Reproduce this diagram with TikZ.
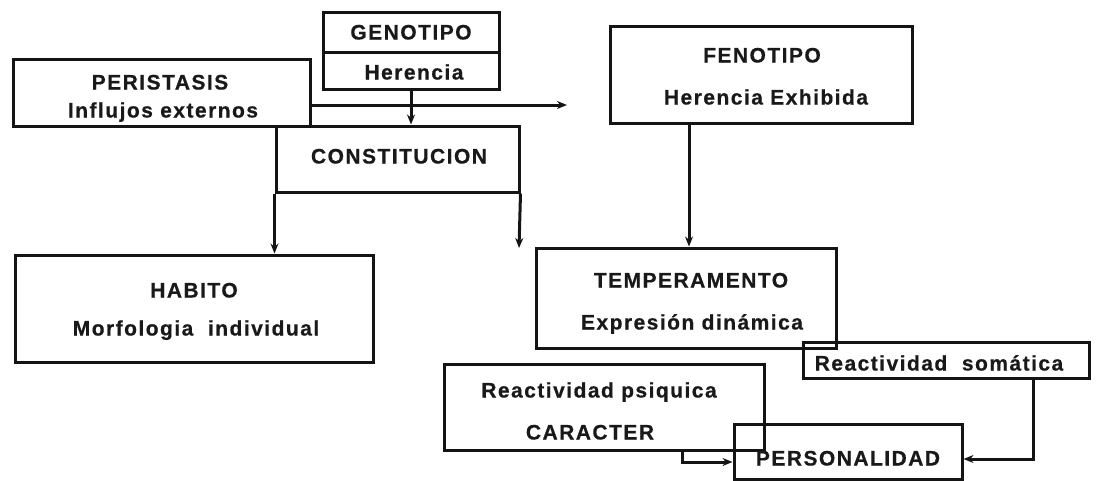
\documentclass[tikz,border=0pt]{standalone}
\usepackage{fontspec}
\setmainfont{Liberation Sans}[LetterSpace=7,BoldFeatures={FakeBold=0.6}]
\usetikzlibrary{arrows.meta,calc}
\begin{document}
\begin{tikzpicture}[x=1pt,y=-1pt,
  box/.style={draw=black!92,line width=3pt,inner sep=0pt,minimum width=#1},
  txt/.style={inner sep=0pt,text height=15pt,text depth=0pt,font=\fontsize{21}{25}\selectfont\bfseries,text=black!90},
  arr/.style={draw=black!92,line width=3pt,-{Stealth[length=10pt,width=8pt]}},
  ln/.style={draw=black!92,line width=3pt}]
\useasboundingbox (0,0) rectangle (1096,480);
% boxes
\node[box=176pt,minimum height=77pt] (geno) at (411,50.5) {};
\node[box=297pt,minimum height=67pt] (peri) at (161.5,92.5) {};
\node[box=243pt,minimum height=66pt] (consti) at (397.5,159) {};
\node[box=302pt,minimum height=97pt] (feno) at (761,74.5) {};
\node[box=358pt,minimum height=107pt] (habito) at (194,308.5) {};
\node[box=300pt,minimum height=100pt] (temp) at (686,298) {};
\node[box=286pt,minimum height=36pt] (soma) at (946,360) {};
\node[box=320pt,minimum height=86pt] (carac) at (604,407) {};
\node[box=228pt,minimum height=55pt] (perso) at (848,451.5) {};
\draw[ln] ($(geno.north west)!0.52!(geno.south west)$) -- ($(geno.north east)!0.52!(geno.south east)$);
% texts
\node[txt] (t1) at (411,32) {GENOTIPO};
\node[txt] (t2) at (414,72) {Herencia};
\node[txt] (t3) at (160,82) {PERISTASIS};
\node[txt] (t4) at (163,110) {Influjos externos};
\node[txt] (t5) at (399,156) {CONSTITUCION};
\node[txt] (t6) at (762,55) {FENOTIPO};
\node[txt] (t7) at (766,97) {Herencia Exhibida};
\node[txt] (t8) at (194,290) {HABITO};
\node[txt] (t9) at (196,328) {Morfologia\ \ individual};
\node[txt] (t10) at (691,280) {TEMPERAMENTO};
\node[txt] (t11) at (692,322) {Expresión dinámica};
\node[txt] (t12) at (939,363) {Reactividad\ \ somática};
\node[txt] (t13) at (599,390) {Reactividad psiquica};
\node[txt] (t14) at (590,432) {CARACTER};
\node[txt] (t15) at (848,458) {PERSONALIDAD};
% connectors
\coordinate (aEnd) at (567,105);
\coordinate (cEnd) at (519,248);
\coordinate (fx) at (689,0);
\coordinate (cx) at (682,0);
\coordinate (cy) at (0,462);
\coordinate (sx) at (1033,0);
\coordinate (sy) at (0,459);
\coordinate (py) at (0,105);
\draw[arr] (peri.east |- py) -- (aEnd);
\draw[arr] (geno.south) -- (geno.south |- consti.north);
\draw[arr] (consti.south west) -- (consti.south west |- habito.north);
\draw[arr] (consti.south east) -- (cEnd);
\draw[arr] (feno.south -| fx) -- (temp.north -| fx);
\draw[arr] (carac.south -| cx) |- (perso.west |- cy);
\draw[arr] (soma.south -| sx) |- (perso.east |- sy);
\end{tikzpicture}
\end{document}
